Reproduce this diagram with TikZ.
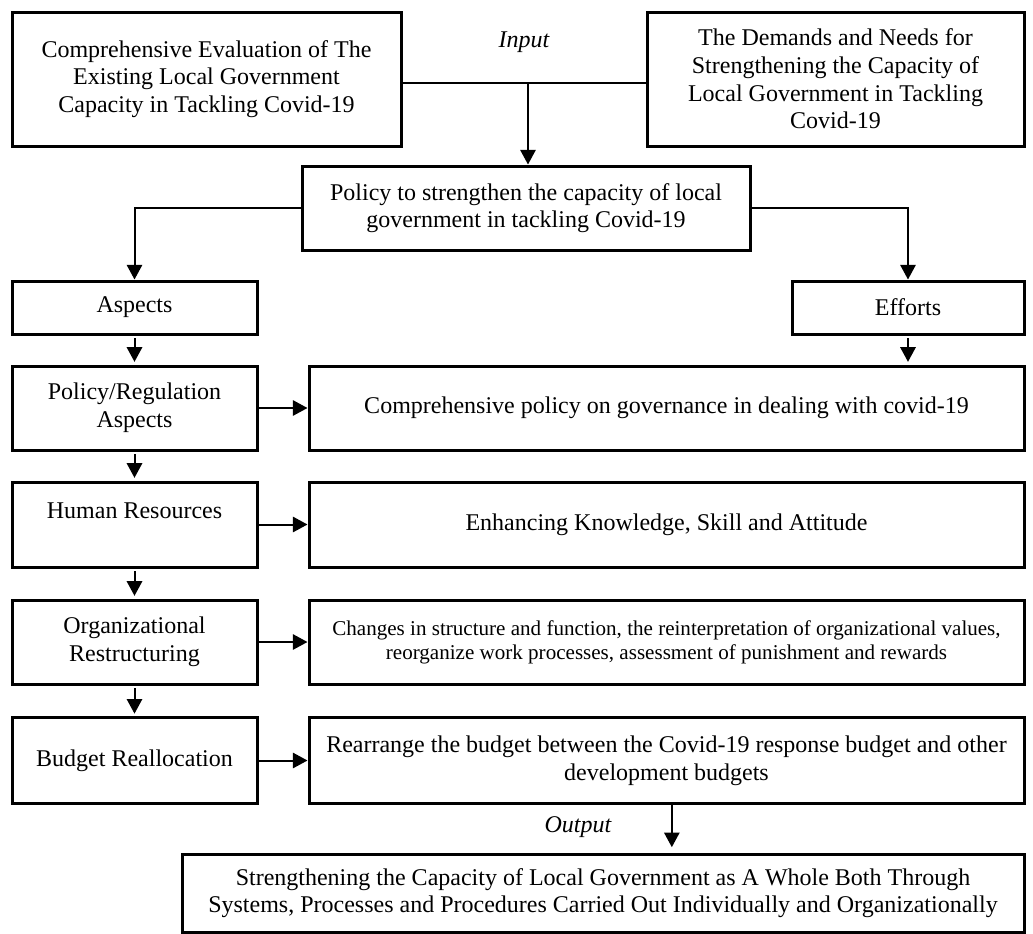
\documentclass[tikz,border=0pt]{standalone}
\usepackage{fontspec}
\setmainfont{Liberation Serif}
\usetikzlibrary{positioning,arrows.meta}
\tikzset{
  box/.style={rectangle,draw,line width=2.25pt,align=center,inner sep=2pt},
  con/.style={line width=1.5pt},
  arr/.style={con,-{Triangle[width=11.5pt,length=11pt]}},
  lbl/.style={font=\fontsize{18}{20.6}\selectfont\itshape}
}
\begin{document}
\begin{tikzpicture}[x=0.75pt,y=-0.75pt,font=\fontsize{18}{20.8}\selectfont]
  \useasboundingbox (0,0) rectangle (1033,933);

  \node[box,minimum width=291.75pt,minimum height=100.5pt] (eval) at (206.5,79)
  {Comprehensive Evaluation of The\\Existing Local Government\\Capacity in Tackling Covid-19};
  \node[box,minimum width=282.75pt,minimum height=100.5pt] (demand) at (835.5,79)
  {The Demands and Needs for\\Strengthening the Capacity of\\Local Government in Tackling\\Covid-19};
  \node[lbl] (input) at (524,42) {Input};
  \node[box,minimum width=336pt,minimum height=63pt] (policy) at (526,208)
  {Policy to strengthen the capacity of local\\government in tackling Covid-19};

  \node[box,minimum width=183.75pt,minimum height=39.75pt] (aspects) at (134.5,307.5) {Aspects};
  \node[box,minimum width=174pt,minimum height=39.75pt] (efforts) at (908,307.5) {Efforts};

  \node[box,minimum width=183.75pt,minimum height=63pt] (polreg) at (134.5,408)
  {Policy/Regulation\\Aspects};
  \node[box,minimum width=536.25pt,minimum height=63pt] (comppol) at (666.5,408)
  {Comprehensive policy on governance in dealing with covid-19};
  \node[box,minimum width=183.75pt,minimum height=63.75pt] (human) at (134.5,524.5)
  {Human Resources\\\mbox{}};
  \node[box,minimum width=536.25pt,minimum height=63.75pt] (enhance) at (666.5,524.5)
  {Enhancing Knowledge, Skill and Attitude};
  \node[box,minimum width=183.75pt,minimum height=63pt] (orgrest) at (134.5,642)
  {Organizational\\Restructuring};
  \node[box,minimum width=536.25pt,minimum height=63pt,font=\fontsize{15.8}{17.8}\selectfont] (changes) at (666.5,642)
  {Changes in structure and function, the reinterpretation of organizational values,\\reorganize work processes, assessment of punishment and rewards};
  \node[box,minimum width=183.75pt,minimum height=64pt] (budget) at (134.5,760.5)
  {Budget Reallocation};
  \node[box,minimum width=536.25pt,minimum height=64pt] (rearrange) at (666.5,760.5)
  {Rearrange the budget between the Covid-19 response budget and other\\development budgets};

  \node[lbl] (output) at (578,827) {Output};
  \node[box,minimum width=631.5pt,minimum height=58.5pt] (final) at (603,893)
  {Strengthening the Capacity of Local Government as A Whole Both Through\\Systems, Processes and Procedures Carried Out Individually and Organizationally};

  \coordinate (join) at (528,83);
  \draw[con] (eval.east |- join) -- (demand.west |- join);
  \draw[arr] (join) -- (join |- policy.north);
  \draw[arr] (policy.west) -| (aspects.north);
  \draw[arr] (policy.east) -| (efforts.north);

  \draw[arr,shorten <=2pt,shorten >=2pt] (aspects) -- (polreg);
  \draw[arr,shorten <=2pt,shorten >=2pt] (polreg) -- (human);
  \draw[arr,shorten <=2pt,shorten >=2pt] (human) -- (orgrest);
  \draw[arr,shorten <=2pt,shorten >=2pt] (orgrest) -- (budget);
  \draw[arr,shorten <=2pt,shorten >=2pt] (efforts.south) -- (efforts.south |- comppol.north);

  \draw[arr] (polreg) -- (comppol);
  \draw[arr] (human) -- (enhance);
  \draw[arr] (orgrest) -- (changes);
  \draw[arr] (budget) -- (rearrange);
  \draw[arr,shorten >=4pt] ([xshift=4pt]rearrange.south) -- ([xshift=4pt]rearrange.south |- final.north);

\end{tikzpicture}
\end{document}
